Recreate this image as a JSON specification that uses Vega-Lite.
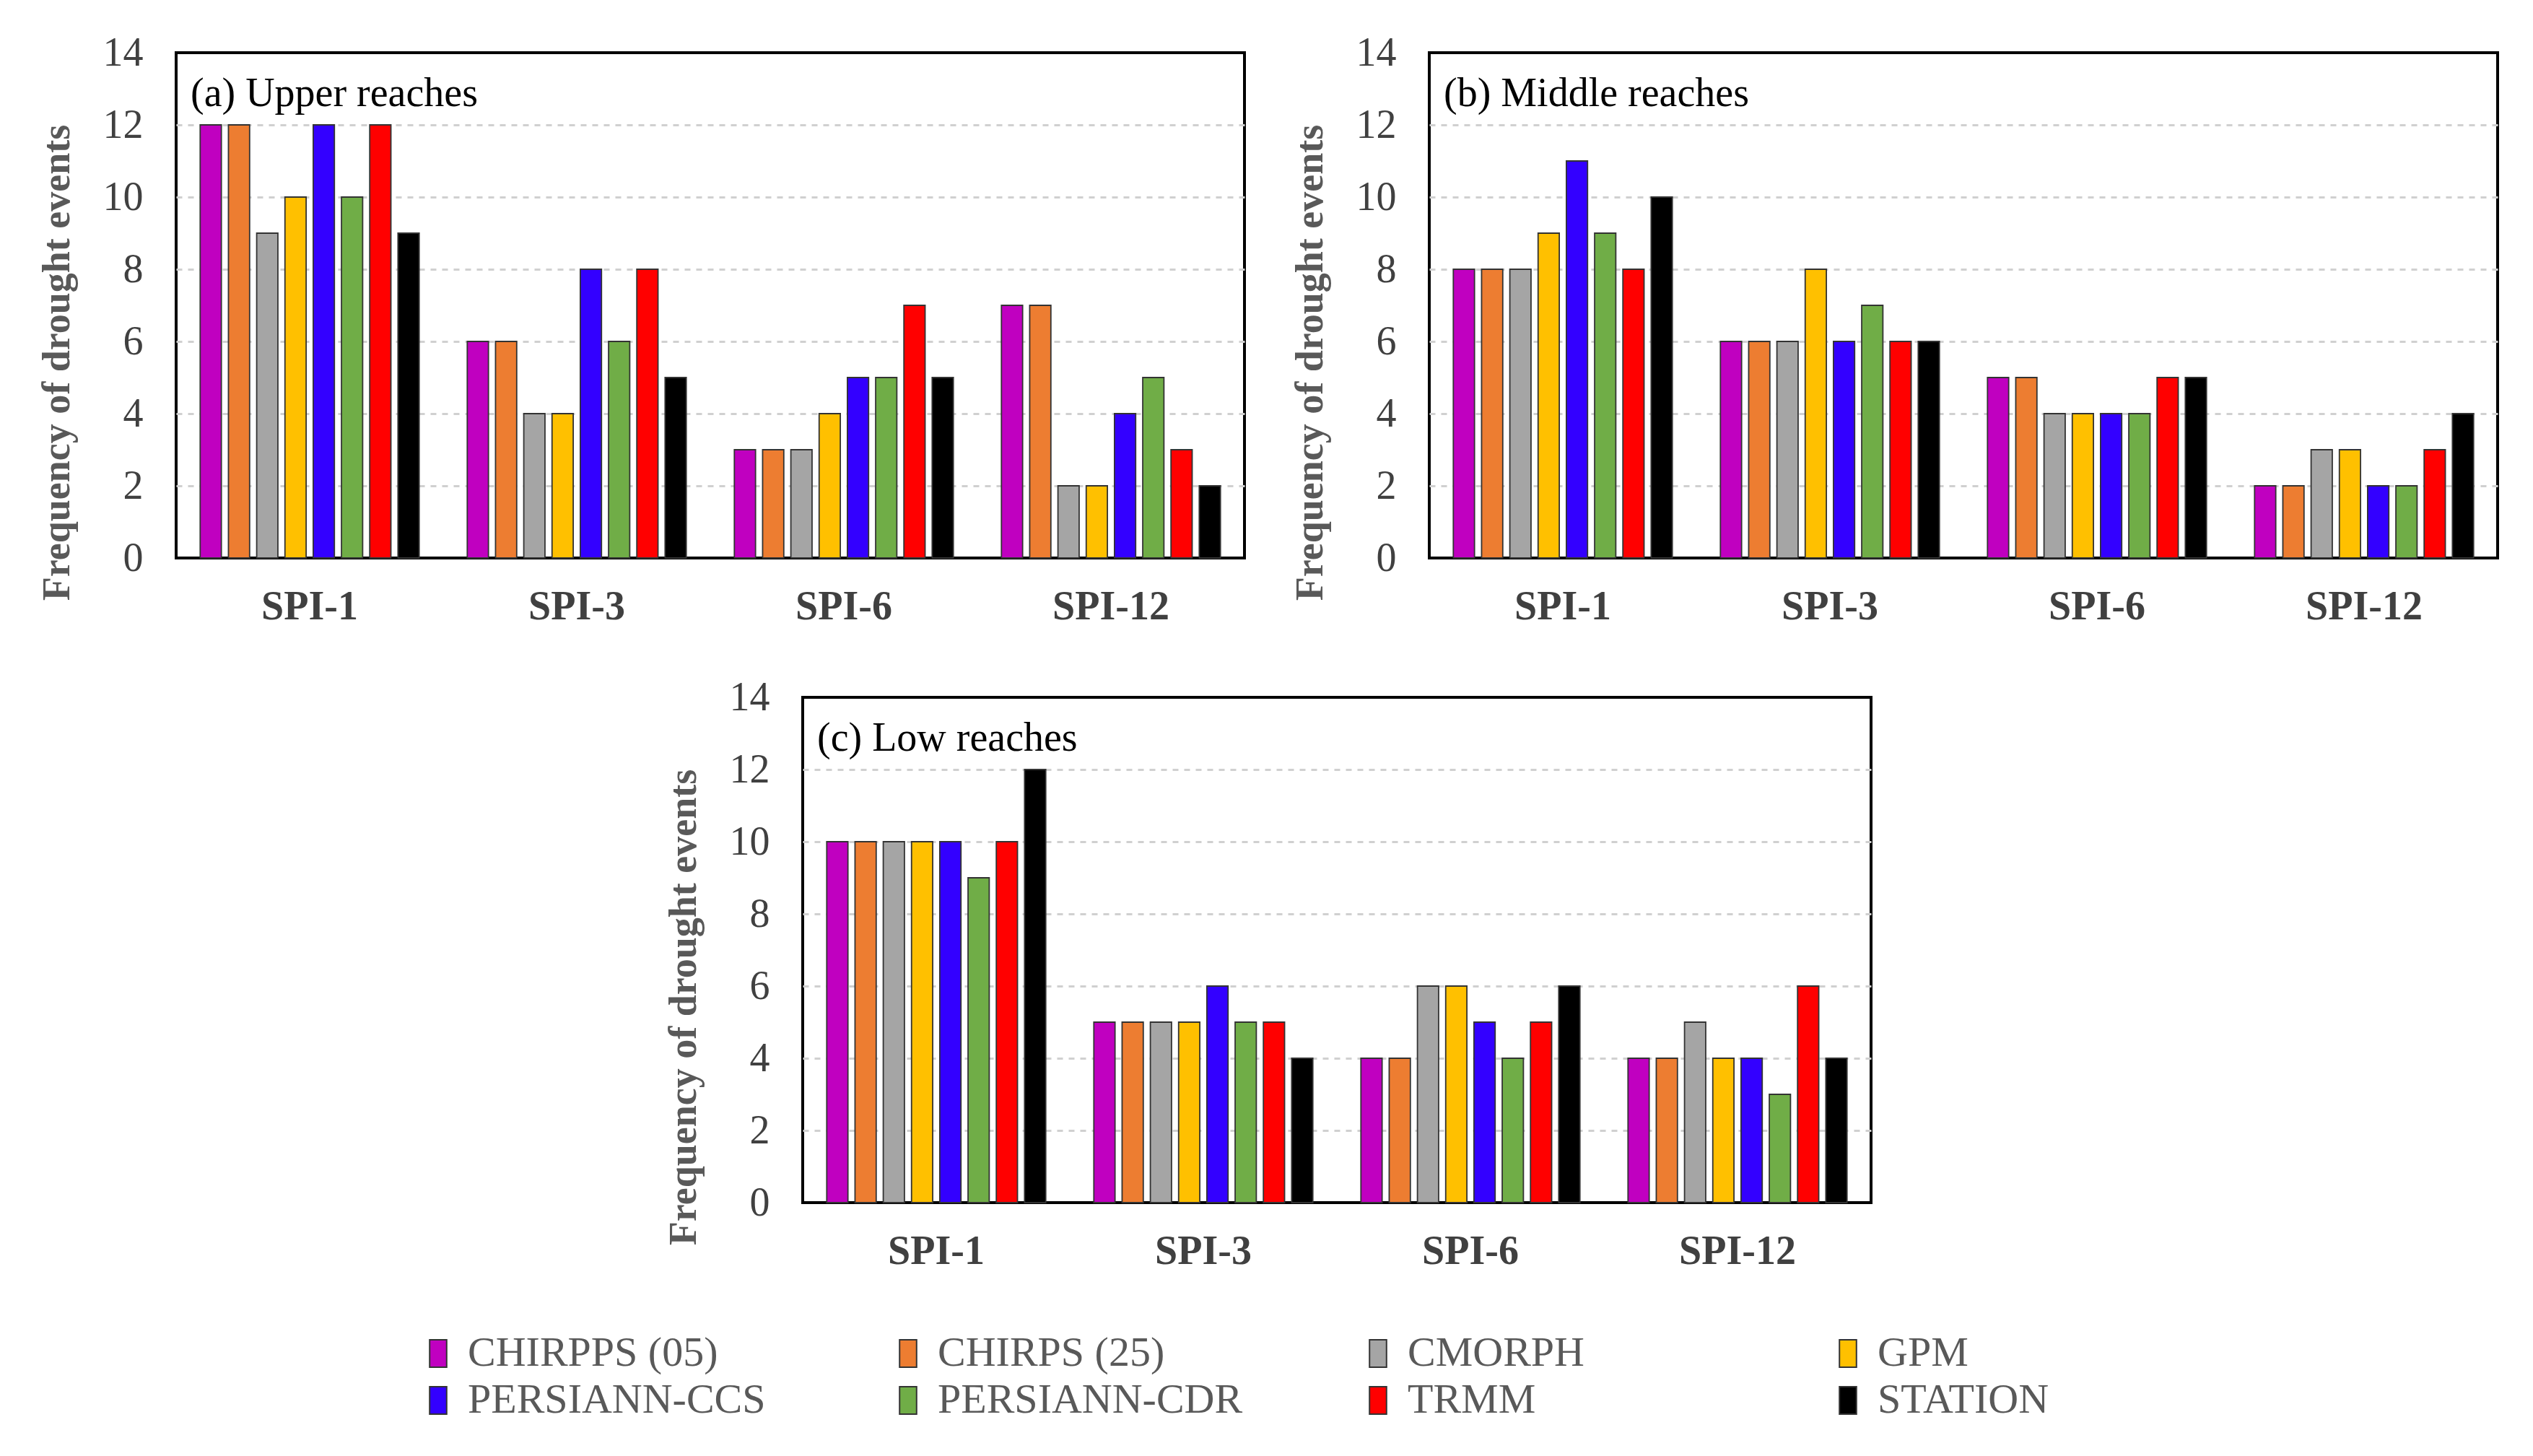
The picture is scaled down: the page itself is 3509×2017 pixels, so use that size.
{
  "$schema": "https://vega.github.io/schema/vega-lite/v6.json",
  "background": "white",
  "padding": {"left": 50, "top": 43, "right": 10, "bottom": 10},
  "data": {"values": [
    {"panel":"a","spi":"SPI-1","product":"CHIRPPS (05)","value":12},
    {"panel":"a","spi":"SPI-1","product":"CHIRPS (25)","value":12},
    {"panel":"a","spi":"SPI-1","product":"CMORPH","value":9},
    {"panel":"a","spi":"SPI-1","product":"GPM","value":10},
    {"panel":"a","spi":"SPI-1","product":"PERSIANN-CCS","value":12},
    {"panel":"a","spi":"SPI-1","product":"PERSIANN-CDR","value":10},
    {"panel":"a","spi":"SPI-1","product":"TRMM","value":12},
    {"panel":"a","spi":"SPI-1","product":"STATION","value":9},
    {"panel":"a","spi":"SPI-3","product":"CHIRPPS (05)","value":6},
    {"panel":"a","spi":"SPI-3","product":"CHIRPS (25)","value":6},
    {"panel":"a","spi":"SPI-3","product":"CMORPH","value":4},
    {"panel":"a","spi":"SPI-3","product":"GPM","value":4},
    {"panel":"a","spi":"SPI-3","product":"PERSIANN-CCS","value":8},
    {"panel":"a","spi":"SPI-3","product":"PERSIANN-CDR","value":6},
    {"panel":"a","spi":"SPI-3","product":"TRMM","value":8},
    {"panel":"a","spi":"SPI-3","product":"STATION","value":5},
    {"panel":"a","spi":"SPI-6","product":"CHIRPPS (05)","value":3},
    {"panel":"a","spi":"SPI-6","product":"CHIRPS (25)","value":3},
    {"panel":"a","spi":"SPI-6","product":"CMORPH","value":3},
    {"panel":"a","spi":"SPI-6","product":"GPM","value":4},
    {"panel":"a","spi":"SPI-6","product":"PERSIANN-CCS","value":5},
    {"panel":"a","spi":"SPI-6","product":"PERSIANN-CDR","value":5},
    {"panel":"a","spi":"SPI-6","product":"TRMM","value":7},
    {"panel":"a","spi":"SPI-6","product":"STATION","value":5},
    {"panel":"a","spi":"SPI-12","product":"CHIRPPS (05)","value":7},
    {"panel":"a","spi":"SPI-12","product":"CHIRPS (25)","value":7},
    {"panel":"a","spi":"SPI-12","product":"CMORPH","value":2},
    {"panel":"a","spi":"SPI-12","product":"GPM","value":2},
    {"panel":"a","spi":"SPI-12","product":"PERSIANN-CCS","value":4},
    {"panel":"a","spi":"SPI-12","product":"PERSIANN-CDR","value":5},
    {"panel":"a","spi":"SPI-12","product":"TRMM","value":3},
    {"panel":"a","spi":"SPI-12","product":"STATION","value":2},
    {"panel":"b","spi":"SPI-1","product":"CHIRPPS (05)","value":8},
    {"panel":"b","spi":"SPI-1","product":"CHIRPS (25)","value":8},
    {"panel":"b","spi":"SPI-1","product":"CMORPH","value":8},
    {"panel":"b","spi":"SPI-1","product":"GPM","value":9},
    {"panel":"b","spi":"SPI-1","product":"PERSIANN-CCS","value":11},
    {"panel":"b","spi":"SPI-1","product":"PERSIANN-CDR","value":9},
    {"panel":"b","spi":"SPI-1","product":"TRMM","value":8},
    {"panel":"b","spi":"SPI-1","product":"STATION","value":10},
    {"panel":"b","spi":"SPI-3","product":"CHIRPPS (05)","value":6},
    {"panel":"b","spi":"SPI-3","product":"CHIRPS (25)","value":6},
    {"panel":"b","spi":"SPI-3","product":"CMORPH","value":6},
    {"panel":"b","spi":"SPI-3","product":"GPM","value":8},
    {"panel":"b","spi":"SPI-3","product":"PERSIANN-CCS","value":6},
    {"panel":"b","spi":"SPI-3","product":"PERSIANN-CDR","value":7},
    {"panel":"b","spi":"SPI-3","product":"TRMM","value":6},
    {"panel":"b","spi":"SPI-3","product":"STATION","value":6},
    {"panel":"b","spi":"SPI-6","product":"CHIRPPS (05)","value":5},
    {"panel":"b","spi":"SPI-6","product":"CHIRPS (25)","value":5},
    {"panel":"b","spi":"SPI-6","product":"CMORPH","value":4},
    {"panel":"b","spi":"SPI-6","product":"GPM","value":4},
    {"panel":"b","spi":"SPI-6","product":"PERSIANN-CCS","value":4},
    {"panel":"b","spi":"SPI-6","product":"PERSIANN-CDR","value":4},
    {"panel":"b","spi":"SPI-6","product":"TRMM","value":5},
    {"panel":"b","spi":"SPI-6","product":"STATION","value":5},
    {"panel":"b","spi":"SPI-12","product":"CHIRPPS (05)","value":2},
    {"panel":"b","spi":"SPI-12","product":"CHIRPS (25)","value":2},
    {"panel":"b","spi":"SPI-12","product":"CMORPH","value":3},
    {"panel":"b","spi":"SPI-12","product":"GPM","value":3},
    {"panel":"b","spi":"SPI-12","product":"PERSIANN-CCS","value":2},
    {"panel":"b","spi":"SPI-12","product":"PERSIANN-CDR","value":2},
    {"panel":"b","spi":"SPI-12","product":"TRMM","value":3},
    {"panel":"b","spi":"SPI-12","product":"STATION","value":4},
    {"panel":"c","spi":"SPI-1","product":"CHIRPPS (05)","value":10},
    {"panel":"c","spi":"SPI-1","product":"CHIRPS (25)","value":10},
    {"panel":"c","spi":"SPI-1","product":"CMORPH","value":10},
    {"panel":"c","spi":"SPI-1","product":"GPM","value":10},
    {"panel":"c","spi":"SPI-1","product":"PERSIANN-CCS","value":10},
    {"panel":"c","spi":"SPI-1","product":"PERSIANN-CDR","value":9},
    {"panel":"c","spi":"SPI-1","product":"TRMM","value":10},
    {"panel":"c","spi":"SPI-1","product":"STATION","value":12},
    {"panel":"c","spi":"SPI-3","product":"CHIRPPS (05)","value":5},
    {"panel":"c","spi":"SPI-3","product":"CHIRPS (25)","value":5},
    {"panel":"c","spi":"SPI-3","product":"CMORPH","value":5},
    {"panel":"c","spi":"SPI-3","product":"GPM","value":5},
    {"panel":"c","spi":"SPI-3","product":"PERSIANN-CCS","value":6},
    {"panel":"c","spi":"SPI-3","product":"PERSIANN-CDR","value":5},
    {"panel":"c","spi":"SPI-3","product":"TRMM","value":5},
    {"panel":"c","spi":"SPI-3","product":"STATION","value":4},
    {"panel":"c","spi":"SPI-6","product":"CHIRPPS (05)","value":4},
    {"panel":"c","spi":"SPI-6","product":"CHIRPS (25)","value":4},
    {"panel":"c","spi":"SPI-6","product":"CMORPH","value":6},
    {"panel":"c","spi":"SPI-6","product":"GPM","value":6},
    {"panel":"c","spi":"SPI-6","product":"PERSIANN-CCS","value":5},
    {"panel":"c","spi":"SPI-6","product":"PERSIANN-CDR","value":4},
    {"panel":"c","spi":"SPI-6","product":"TRMM","value":5},
    {"panel":"c","spi":"SPI-6","product":"STATION","value":6},
    {"panel":"c","spi":"SPI-12","product":"CHIRPPS (05)","value":4},
    {"panel":"c","spi":"SPI-12","product":"CHIRPS (25)","value":4},
    {"panel":"c","spi":"SPI-12","product":"CMORPH","value":5},
    {"panel":"c","spi":"SPI-12","product":"GPM","value":4},
    {"panel":"c","spi":"SPI-12","product":"PERSIANN-CCS","value":4},
    {"panel":"c","spi":"SPI-12","product":"PERSIANN-CDR","value":3},
    {"panel":"c","spi":"SPI-12","product":"TRMM","value":6},
    {"panel":"c","spi":"SPI-12","product":"STATION","value":4}
  ]},
  "config": {
    "font": "Liberation Serif",
    "view": {"stroke": "black", "strokeWidth": 4},
    "axis": {"labelFont": "Liberation Serif", "titleFont": "Liberation Serif"},
    "legend": {"labelFont": "Liberation Serif"},
    "concat": {"spacing": 60}
  },
  "spacing": 66,
  "center": true,
  "vconcat": [
    {
      "hconcat": [
        {
          "width": 1480, "height": 700,
          "title": {"text": "(a) Upper reaches", "anchor": "start", "orient": "top", "frame": "group", "offset": -77, "baseline": "alphabetic", "dx": 20, "dy": 81, "font": "Liberation Serif", "fontSize": 56, "fontWeight": "normal", "color": "black"},
          "transform": [{"filter": "datum.panel == 'a'"}],
          "mark": {"type": "bar", "stroke": "#333333", "strokeWidth": 1.8},
          "encoding": {
            "x": {"field": "spi", "type": "nominal", "sort": ["SPI-1","SPI-3","SPI-6","SPI-12"], "scale": {"paddingInner": 0.18, "paddingOuter": 0.09}, "title": null,
                  "axis": {"labelAngle": 0, "ticks": false, "domain": false, "labelFontSize": 56, "labelFontWeight": "bold", "labelColor": "#404040", "labelPadding": 40}},
            "xOffset": {"field": "product", "type": "nominal", "sort": ["CHIRPPS (05)","CHIRPS (25)","CMORPH","GPM","PERSIANN-CCS","PERSIANN-CDR","TRMM","STATION"], "scale": {"paddingInner": 0.25, "paddingOuter": 0}},
            "y": {"field": "value", "type": "quantitative", "scale": {"domain": [0, 14]}, "title": "Frequency of drought events",
                  "axis": {"values": [0,2,4,6,8,10,12,14], "ticks": false, "domain": false, "labelFlush": false, "labelFontSize": 56, "labelColor": "#404040", "labelPadding": 46,
                           "grid": true, "gridColor": "#D0D0D0", "gridDash": [8, 8], "gridWidth": 3,
                           "gridOpacity": {"condition": {"test": "datum.value == 0 || datum.value == 14", "value": 0}, "value": 1},
                           "titleFontSize": 54, "titleFontWeight": "bold", "titleColor": "#595959", "titlePadding": 36, "titleY": 429}},
            "color": {"field": "product", "type": "nominal",
                      "scale": {"domain": ["CHIRPPS (05)","CHIRPS (25)","CMORPH","GPM","PERSIANN-CCS","PERSIANN-CDR","TRMM","STATION"],
                                "range": ["#C000C0","#ED7D31","#A5A5A5","#FFC000","#3300FF","#70AD47","#FF0000","#000000"]},
                      "legend": {"orient": "none", "legendX": 334, "legendY": 1773, "direction": "horizontal", "columns": 4, "title": null,
                                 "symbolType": "M-0.62,-1H0.62V1H-0.62Z", "symbolSize": 1444, "symbolStrokeColor": "#333333", "symbolStrokeWidth": 2,
                                 "labelFontSize": 58, "labelColor": "#595959", "labelOffset": 12, "gridAlign": "all", "columnPadding": 158, "rowPadding": 7, "padding": 0, "labelLimit": 700}}
          }
        },
        {
          "width": 1480, "height": 700,
          "title": {"text": "(b) Middle reaches", "anchor": "start", "orient": "top", "frame": "group", "offset": -77, "baseline": "alphabetic", "dx": 20, "dy": 81, "font": "Liberation Serif", "fontSize": 56, "fontWeight": "normal", "color": "black"},
          "transform": [{"filter": "datum.panel == 'b'"}],
          "mark": {"type": "bar", "stroke": "#333333", "strokeWidth": 1.8},
          "encoding": {
            "x": {"field": "spi", "type": "nominal", "sort": ["SPI-1","SPI-3","SPI-6","SPI-12"], "scale": {"paddingInner": 0.18, "paddingOuter": 0.09}, "title": null,
                  "axis": {"labelAngle": 0, "ticks": false, "domain": false, "labelFontSize": 56, "labelFontWeight": "bold", "labelColor": "#404040", "labelPadding": 40}},
            "xOffset": {"field": "product", "type": "nominal", "sort": ["CHIRPPS (05)","CHIRPS (25)","CMORPH","GPM","PERSIANN-CCS","PERSIANN-CDR","TRMM","STATION"], "scale": {"paddingInner": 0.25, "paddingOuter": 0}},
            "y": {"field": "value", "type": "quantitative", "scale": {"domain": [0, 14]}, "title": "Frequency of drought events",
                  "axis": {"values": [0,2,4,6,8,10,12,14], "ticks": false, "domain": false, "labelFlush": false, "labelFontSize": 56, "labelColor": "#404040", "labelPadding": 46,
                           "grid": true, "gridColor": "#D0D0D0", "gridDash": [8, 8], "gridWidth": 3,
                           "gridOpacity": {"condition": {"test": "datum.value == 0 || datum.value == 14", "value": 0}, "value": 1},
                           "titleFontSize": 54, "titleFontWeight": "bold", "titleColor": "#595959", "titlePadding": 36, "titleY": 429}},
            "color": {"field": "product", "type": "nominal",
                      "scale": {"domain": ["CHIRPPS (05)","CHIRPS (25)","CMORPH","GPM","PERSIANN-CCS","PERSIANN-CDR","TRMM","STATION"],
                                "range": ["#C000C0","#ED7D31","#A5A5A5","#FFC000","#3300FF","#70AD47","#FF0000","#000000"]}}
          }
        }
      ]
    },
    {
      "width": 1480, "height": 700,
      "title": {"text": "(c) Low reaches", "anchor": "start", "orient": "top", "frame": "group", "offset": -77, "baseline": "alphabetic", "dx": 20, "dy": 81, "font": "Liberation Serif", "fontSize": 56, "fontWeight": "normal", "color": "black"},
      "transform": [{"filter": "datum.panel == 'c'"}],
      "mark": {"type": "bar", "stroke": "#333333", "strokeWidth": 1.8},
      "encoding": {
        "x": {"field": "spi", "type": "nominal", "sort": ["SPI-1","SPI-3","SPI-6","SPI-12"], "scale": {"paddingInner": 0.18, "paddingOuter": 0.09}, "title": null,
              "axis": {"labelAngle": 0, "ticks": false, "domain": false, "labelFontSize": 56, "labelFontWeight": "bold", "labelColor": "#404040", "labelPadding": 40}},
        "xOffset": {"field": "product", "type": "nominal", "sort": ["CHIRPPS (05)","CHIRPS (25)","CMORPH","GPM","PERSIANN-CCS","PERSIANN-CDR","TRMM","STATION"], "scale": {"paddingInner": 0.25, "paddingOuter": 0}},
        "y": {"field": "value", "type": "quantitative", "scale": {"domain": [0, 14]}, "title": "Frequency of drought events",
              "axis": {"values": [0,2,4,6,8,10,12,14], "ticks": false, "domain": false, "labelFlush": false, "labelFontSize": 56, "labelColor": "#404040", "labelPadding": 46,
                       "grid": true, "gridColor": "#D0D0D0", "gridDash": [8, 8], "gridWidth": 3,
                       "gridOpacity": {"condition": {"test": "datum.value == 0 || datum.value == 14", "value": 0}, "value": 1},
                       "titleFontSize": 54, "titleFontWeight": "bold", "titleColor": "#595959", "titlePadding": 36, "titleY": 429}},
        "color": {"field": "product", "type": "nominal",
                  "scale": {"domain": ["CHIRPPS (05)","CHIRPS (25)","CMORPH","GPM","PERSIANN-CCS","PERSIANN-CDR","TRMM","STATION"],
                            "range": ["#C000C0","#ED7D31","#A5A5A5","#FFC000","#3300FF","#70AD47","#FF0000","#000000"]}}
      }
    }
  ]
}
